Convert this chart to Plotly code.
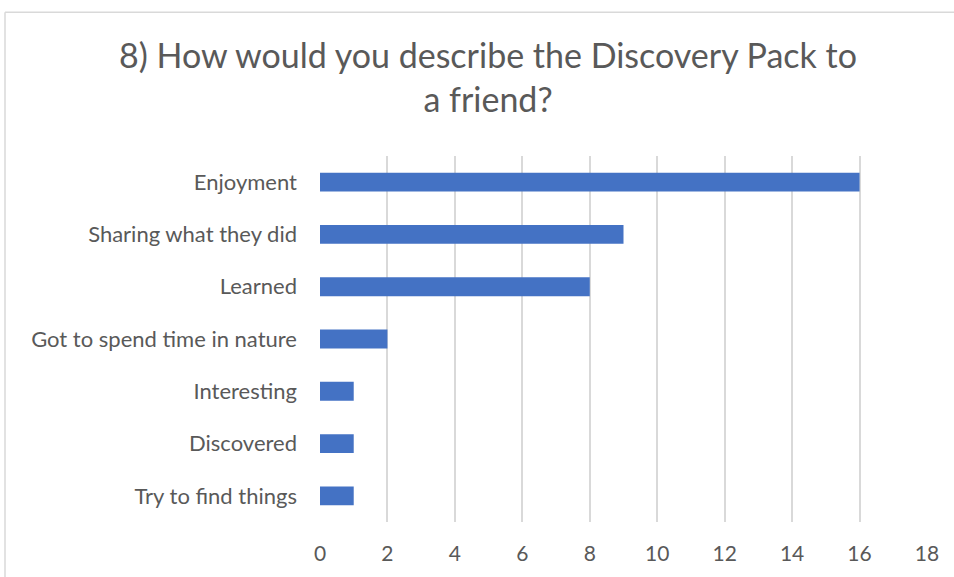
import plotly.graph_objects as go

categories = [
    "Enjoyment",
    "Sharing what they did",
    "Learned",
    "Got to spend time in nature",
    "Interesting",
    "Discovered",
    "Try to find things",
]
counts = [16, 9, 8, 2, 1, 1, 1]
x_ticks = list(range(0, 19, 2))

TEXT = "#595959"
GRID = "#d9d9d9"
FONT = "Lato, Carlito, Calibri, sans-serif"

fig = go.Figure(
    go.Bar(
        x=counts,
        y=categories,
        orientation="h",
        marker=dict(color="#4472C4", line=dict(width=0)),
        hoverinfo="x+y",
    )
)

W, H = 954, 577
L, R, T, B = 320, 27, 156, 52
pw, ph = W - L - R, H - T - B

fig.update_layout(
    width=W,
    height=H,
    margin=dict(l=L, r=R, t=T, b=B),
    paper_bgcolor="white",
    plot_bgcolor="white",
    bargap=0.64,
    showlegend=False,
    font=dict(family=FONT, color=TEXT),
    title=dict(
        text="8) How would you describe the Discovery Pack to<br>a friend?",
        x=488 / W,
        xanchor="center",
        xref="container",
        y=1 - 68 / H,
        yref="container",
        yanchor="middle",
        font=dict(size=34, color=TEXT, family=FONT),
    ),
    xaxis=dict(
        range=[0, 18],
        tickvals=x_ticks,
        showgrid=True,
        gridcolor=GRID,
        gridwidth=1.5,
        zeroline=False,
        showline=False,
        ticks="",
        tickfont=dict(size=21, color=TEXT),
        ticklabelstandoff=17,
    ),
    yaxis=dict(
        autorange="reversed",
        showgrid=False,
        zeroline=False,
        showline=False,
        ticks="",
        tickfont=dict(size=22, color=TEXT),
        ticklabelstandoff=22,
    ),
    shapes=[
        # chart frame (top and left edges)
        dict(type="line", xref="paper", yref="paper",
             x0=(5 - L) / pw, x1=(W + 5 - L) / pw,
             y0=(H - B - 11) / ph, y1=(H - B - 11) / ph,
             line=dict(color=GRID, width=1.5)),
        dict(type="line", xref="paper", yref="paper",
             x0=(5 - L) / pw, x1=(5 - L) / pw,
             y0=(H - B - 11) / ph, y1=-B / ph - 0.05,
             line=dict(color=GRID, width=1.5)),
    ],
)

fig.write_html("out.html")
